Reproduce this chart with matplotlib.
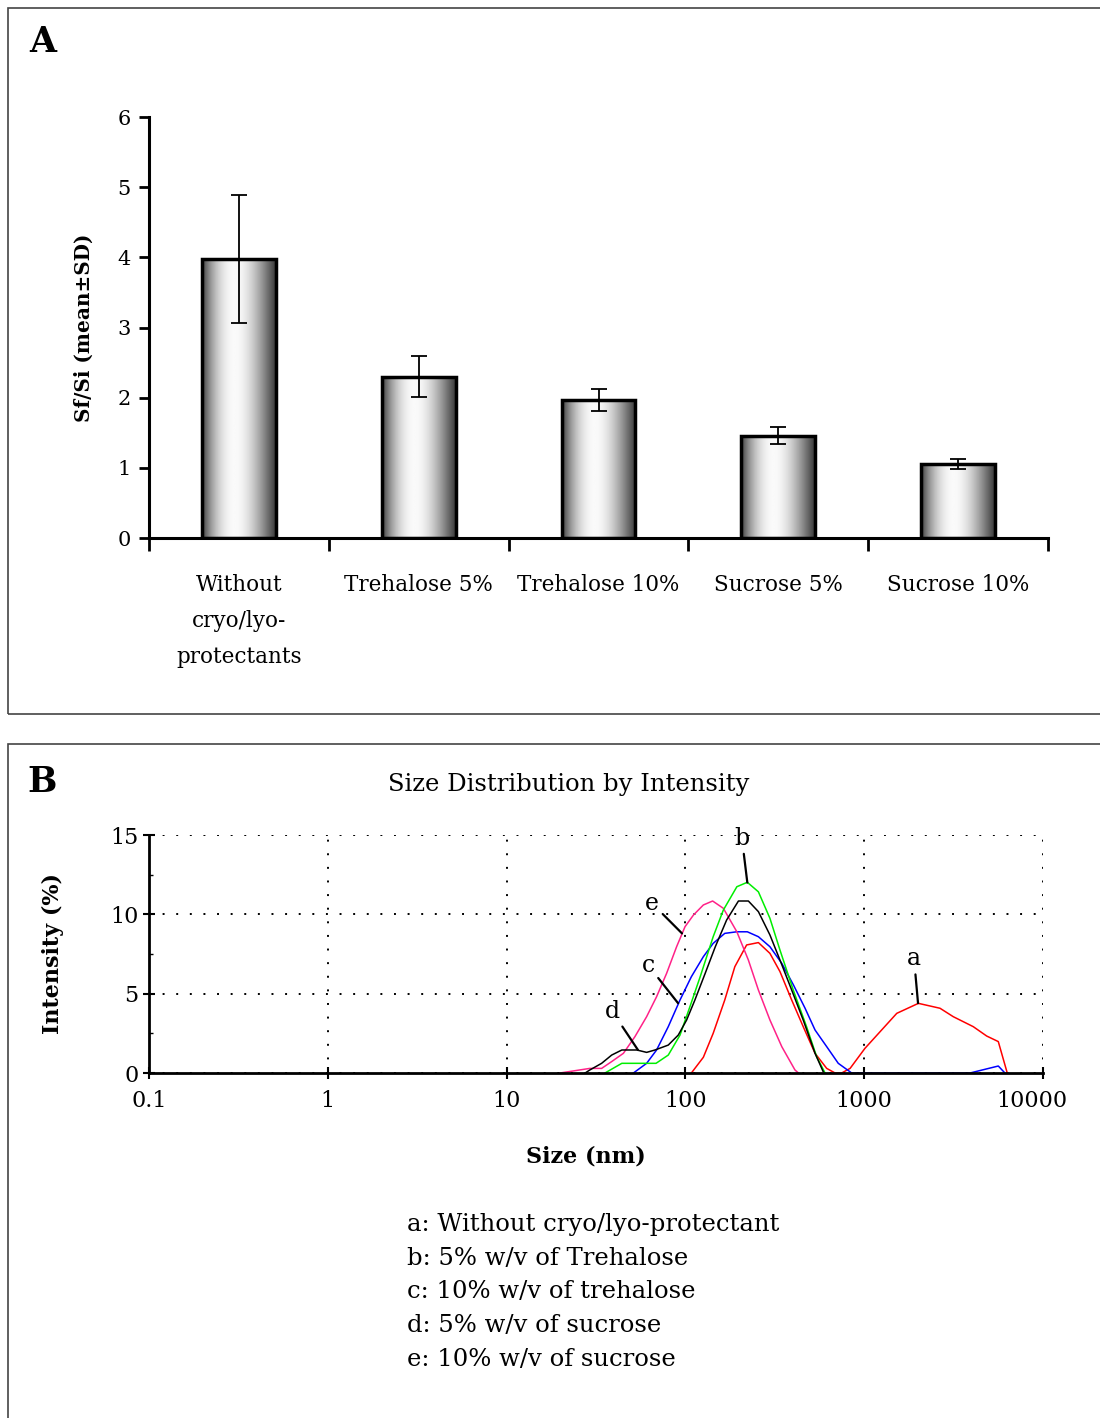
import matplotlib
matplotlib.use("Agg")
import matplotlib.pyplot as plt
import matplotlib.transforms as mtransforms
import numpy as np
from matplotlib.patches import Rectangle

plt.rcParams['font.family'] = ['DejaVu Serif']

# ---------------- data: panel A ----------------
categories = ["Without\ncryo/lyo-\nprotectants", "Trehalose 5%", "Trehalose 10%",
              "Sucrose 5%", "Sucrose 10%"]
sf_si_mean = [3.98, 2.30, 1.97, 1.46, 1.05]
sf_si_sd = [0.91, 0.29, 0.16, 0.12, 0.07]

# ---------------- data: panel B (size nm, intensity %) ----------------
a_size = [108, 126, 143, 166, 189, 220, 256, 297, 338, 393, 456, 531, 617, 687, 748,
          834, 1009, 1521, 2009, 2655, 3148, 4074, 4842, 5623, 6310]
a_int = [0, 0.99, 2.50, 4.60, 6.70, 8.07, 8.22, 7.54, 6.39, 4.60, 2.92, 1.24, 0.29, 0,
         0, 0.29, 1.55, 3.76, 4.39, 4.08, 3.55, 2.92, 2.33, 1.98, 0]

b_size = [35.5, 44.1, 68.5, 80.2, 93.3, 106, 121, 143, 163, 194, 222, 256, 297, 338,
          401, 476, 542, 604]
b_int = [0, 0.61, 0.61, 1.13, 2.39, 4.18, 6.07, 8.59, 10.27, 11.74, 12.02, 11.42, 9.75,
         7.75, 5.23, 2.92, 1.03, 0]

c_size = [51.2, 60.7, 69.0, 80.2, 93.3, 108, 126, 143, 166, 194, 222, 256, 297, 346,
          402, 467, 531, 617, 716, 851, 3908, 5623, 6124]
c_int = [0, 0.61, 1.45, 2.92, 4.60, 6.07, 7.33, 8.17, 8.80, 8.90, 8.90, 8.59, 7.96, 6.91,
         5.55, 4.08, 2.71, 1.66, 0.61, 0, 0, 0.44, 0]

d_size = [27.5, 29.2, 34.0, 38.7, 44.1, 53.5, 60.7, 67.6, 80.2, 91.2, 101.6, 113, 129,
          147, 170, 198, 225, 256, 297, 338, 393, 456, 531, 590]
d_int = [0, 0.19, 0.61, 1.13, 1.45, 1.45, 1.30, 1.45, 1.76, 2.39, 3.34, 4.60, 6.28, 7.96,
         9.64, 10.84, 10.84, 10.17, 8.70, 7.12, 5.23, 3.34, 1.24, 0.08]

e_size = [19.9, 29.2, 34.0, 38.7, 45.0, 52.2, 60.7, 69.0, 78.5, 89.3, 99.5, 111, 126,
          142, 163, 194, 225, 256, 297, 346, 410, 429]
e_int = [0, 0.29, 0.29, 0.72, 1.24, 2.29, 3.55, 4.81, 6.28, 7.96, 9.22, 9.96, 10.59,
         10.84, 10.38, 8.90, 7.12, 5.23, 3.34, 1.66, 0.19, 0]

legend_lines = ["a: Without cryo/lyo-protectant", "b: 5% w/v of Trehalose",
                "c: 10% w/v of trehalose", "d: 5% w/v of sucrose",
                "e: 10% w/v of sucrose"]

fig = plt.figure(figsize=(11, 14.18), dpi=100)

# panel frames
fig.patches.append(Rectangle((8 / 1100, 1 - 714 / 1418), 1.2, 706 / 1418, transform=fig.transFigure,
                             fill=False, edgecolor='#444444', linewidth=1.2))
fig.patches.append(Rectangle((8 / 1100, -0.1), 1.2, 0.1 + (1418 - 744) / 1418, transform=fig.transFigure,
                             fill=False, edgecolor='#444444', linewidth=1.2))

fig.text(29 / 1100, 1 - 42 / 1418, "A", fontsize=25, fontweight='bold', va='center', ha='left')
fig.text(27 / 1100, 1 - 782 / 1418, "B", fontsize=25, fontweight='bold', va='center', ha='left')

############################ panel A ###############################

axA = fig.add_axes([149 / 1100, 1 - 538 / 1418, 899 / 1100, 421 / 1418])
x = np.arange(len(categories))
bars = axA.bar(x, sf_si_mean, width=0.41, facecolor='none', edgecolor='black', linewidth=2.5, zorder=3)
t = np.linspace(0, 1, 200)
shade = 0.22 + 0.76 * np.sin(np.pi * t ** 0.85)
for b in bars:
    x0, w, h = b.get_x(), b.get_width(), b.get_height()
    axA.imshow(shade[np.newaxis, :], cmap='gray', vmin=0, vmax=1, aspect='auto',
               extent=(x0, x0 + w, 0, h), zorder=2, interpolation='bilinear')
axA.errorbar(x, sf_si_mean, yerr=sf_si_sd, fmt='none', ecolor='black', elinewidth=1.3,
             capsize=6, capthick=1.3, zorder=4)
axA.set_xlim(-0.5, 4.5)
axA.set_ylim(0, 6)
axA.set_yticks(range(0, 7))
axA.set_xticks(x)
axA.set_xticklabels(categories, fontsize=15.5, linespacing=1.82, va='top')
axA.set_xticks(np.arange(-0.5, 5, 1), minor=True)
axA.tick_params(axis='x', which='major', length=0, pad=26)
axA.tick_params(axis='x', which='minor', length=9, width=2, direction='out')
axA.tick_params(axis='y', length=7, width=2, direction='out', labelsize=15, pad=6)
for s in ['top', 'right']:
    axA.spines[s].set_visible(False)
for s in ['left', 'bottom']:
    axA.spines[s].set_linewidth(2.2)
axA.set_ylabel("Sf/Si (mean±SD)", fontsize=14.4, fontweight='bold', labelpad=17)

############################ panel B ###############################

axB = fig.add_axes([149 / 1100, 1 - 1073 / 1418, 894 / 1100, 238 / 1418])
axB.plot(a_size, a_int, color='#ff0000', linewidth=1.1)
axB.plot(c_size, c_int, color='#0000ff', linewidth=1.1)
axB.plot(e_size, e_int, color='#ff2288', linewidth=1.1)
axB.plot(b_size, b_int, color='#00ee00', linewidth=1.1)
axB.plot(d_size, d_int, color='black', linewidth=1.1)
axB.set_xscale('log')
axB.set_xlim(0.1, 10000)
axB.set_ylim(0, 15)
axB.set_xticks([0.1, 1, 10, 100, 1000, 10000])
axB.set_xticklabels(["0.1", "1", "10", "100", "1000", "10000"])
axB.set_xticks([], minor=True)
axB.set_yticks([0, 5, 10, 15])
axB.set_yticks([2.5, 7.5, 12.5], minor=True)
axB.tick_params(axis='both', which='major', direction='inout', length=8, width=1.5, labelsize=16)
axB.tick_params(axis='x', which='major', pad=8)
axB.tick_params(axis='y', which='minor', direction='in', length=3, width=1)
last = axB.get_xticklabels()[-1]
last.set_transform(last.get_transform() +
                   mtransforms.ScaledTranslation(-11 / 100, 0, fig.dpi_scale_trans))
axB.grid(True, which='major', linestyle=(0, (1, 6)), color='black', linewidth=1.4)
for s in ['top', 'right']:
    axB.spines[s].set_visible(False)
for s in ['left', 'bottom']:
    axB.spines[s].set_linewidth(2)
axB.set_ylabel("Intensity (%)", fontsize=16, fontweight='bold', labelpad=33)
fig.text(586 / 1100, 1 - 1157 / 1418, "Size (nm)", fontsize=16, fontweight='bold',
         ha='center', va='center')
fig.text(569 / 1100, 1 - 785 / 1418, "Size Distribution by Intensity", fontsize=17.5,
         ha='center', va='center')

ann = dict(arrowstyle='-', color='black', linewidth=1.6, shrinkA=1, shrinkB=0)
axB.annotate("b", xy=(222, 12.0), xytext=(207, 14.8), fontsize=17, ha='center', va='center',
             arrowprops=ann)
axB.annotate("e", xy=(95.7, 8.8), xytext=(65, 10.7), fontsize=17, ha='center', va='center',
             arrowprops=ann)
axB.annotate("c", xy=(91, 4.4), xytext=(61.8, 6.8), fontsize=17, ha='center', va='center',
             arrowprops=ann)
axB.annotate("d", xy=(54.3, 1.45), xytext=(38.9, 3.9), fontsize=17, ha='center', va='center',
             arrowprops=ann)
axB.annotate("a", xy=(2000, 4.4), xytext=(1900, 7.2), fontsize=17, ha='center', va='center',
             arrowprops=ann)

for i, line in enumerate(legend_lines):
    fig.text(407 / 1100, 1 - (1225 + 33.5 * i) / 1418, line, fontsize=17.5, ha='left', va='center')

plt.savefig("out.png", dpi=100)
